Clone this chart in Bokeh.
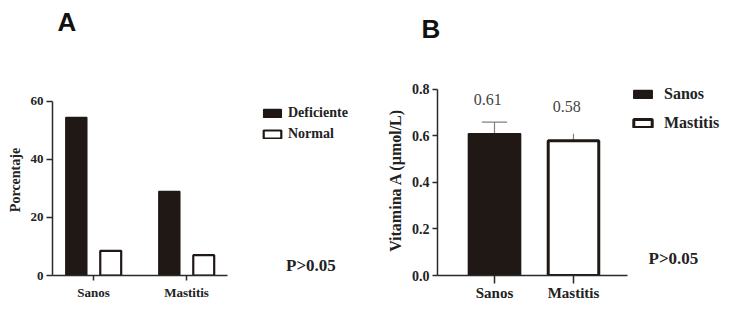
from bokeh.plotting import figure
from bokeh.layouts import row
from bokeh.models import (Range1d, FixedTicker, Legend, LegendItem, Label,
                          ColumnDataSource, PrintfTickFormatter, Title)
from bokeh.core.properties import value
from bokeh.embed import file_html
from bokeh.resources import INLINE

# ---------------- data ----------------
groups = ["Sanos", "Mastitis"]
group_pos = [1, 2]
pct_deficiente = [54.5, 29.0]
pct_normal = [8.5, 7.0]
a_yticks = [0, 20, 40, 60]

vit_mean = [0.61, 0.58]
vit_upper = [0.66, 0.61]
vit_labels = ["0.61", "0.58"]
b_yticks = [0.0, 0.2, 0.4, 0.6, 0.8]
p_text = "P>0.05"

# ---------------- style ----------------
DARK = "#1f1815"
AX = "#2a2a2a"
SERIF = "Liberation Serif"
TOP = 84
BOTTOM = 32


def style_axes(p, ytick_size, xtick_size, ylab_size, ytick_out, xtick_out,
               ylab_standoff, xlab_standoff):
    for ax in (p.xaxis[0], p.yaxis[0]):
        ax.axis_line_color = AX
        ax.axis_line_width = 1.5
        ax.major_tick_line_color = AX
        ax.major_tick_line_width = 1.5
        ax.minor_tick_line_color = None
        ax.major_tick_in = 0
        ax.major_label_text_font = SERIF
        ax.major_label_text_font_style = "bold"
        ax.major_label_text_color = "#222222"
    p.yaxis[0].major_tick_out = ytick_out
    p.xaxis[0].major_tick_out = xtick_out
    p.yaxis[0].major_label_text_font_size = f"{ytick_size}px"
    p.xaxis[0].major_label_text_font_size = f"{xtick_size}px"
    p.yaxis[0].major_label_standoff = 3
    p.xaxis[0].major_label_standoff = xlab_standoff
    p.yaxis[0].axis_label_text_font = SERIF
    p.yaxis[0].axis_label_text_font_style = "bold"
    p.yaxis[0].axis_label_text_font_size = f"{ylab_size}px"
    p.yaxis[0].axis_label_text_color = "#222222"
    p.yaxis[0].axis_label_standoff = ylab_standoff
    p.xgrid.visible = False
    p.ygrid.visible = False
    p.outline_line_color = None
    p.xaxis[0].ticker = FixedTicker(ticks=group_pos)
    p.xaxis[0].major_label_overrides = {k: v for k, v in zip(group_pos, groups)}


def panel_title(p, text, offset, gap):
    # spacer panel next to the frame, then the panel letter above it
    p.add_layout(Title(text=" ", text_font_size="1px", standoff=gap), "above")
    p.add_layout(Title(text=text, text_font="Liberation Sans",
                       text_font_style="bold", text_font_size="26px",
                       text_color="#111111", align="left", offset=offset,
                       standoff=0), "above")


# ---------------- panel A ----------------
pA = figure(width=370, height=307, output_backend="svg", toolbar_location=None,
            x_range=Range1d(0.559, 3.978), y_range=Range1d(0, 65.86),
            min_border_left=52, min_border_right=0, min_border_top=TOP,
            min_border_bottom=BOTTOM, y_axis_label="Porcentaje")
style_axes(pA, 13, 13, 14, 6, 5, 5, 4)
pA.yaxis[0].ticker = FixedTicker(ticks=a_yticks)
pA.xaxis[0].bounds = (0.559, 2.441)
pA.yaxis[0].bounds = (0, 60)

dodge = 0.185
srcA = ColumnDataSource(dict(
    xd=[x - dodge for x in group_pos], xn=[x + dodge for x in group_pos],
    d=pct_deficiente, n=pct_normal))
r_def = pA.vbar(x="xd", top="d", width=0.225, source=srcA,
                fill_color=DARK, line_color=DARK, line_width=1.5)
r_nor = pA.vbar(x="xn", top="n", width=0.225, source=srcA,
                fill_color="white", line_color=DARK, line_width=2.2)

legA = Legend(items=[LegendItem(label="Deficiente", renderers=[r_def]),
                     LegendItem(label="Normal", renderers=[r_nor])],
              location=(209, 133), orientation="vertical",
              glyph_width=22, glyph_height=10, label_height=10, spacing=5,
              label_standoff=5, padding=0, margin=0,
              border_line_color=None, background_fill_alpha=0,
              label_text_font=SERIF, label_text_font_style="bold",
              label_text_font_size="14px", label_text_color="#222222")
pA.add_layout(legA, "center")

panel_title(pA, "A", 5, 45)
pA.add_layout(Label(x=3.07, y=3.4, text=p_text, text_font=SERIF,
                    text_font_style="bold", text_font_size="17px",
                    text_color="#222222", text_baseline="middle"))

# ---------------- panel B ----------------
pB = figure(width=365, height=307, output_backend="svg", toolbar_location=None,
            x_range=Range1d(0.2785, 4.051), y_range=Range1d(0, 0.8215),
            min_border_left=67, min_border_right=0, min_border_top=TOP,
            min_border_bottom=BOTTOM, y_axis_label="Vitamina A (µmol/L)")
style_axes(pB, 14, 15, 16, 5, 8, 5, 1)
pB.yaxis[0].ticker = FixedTicker(ticks=b_yticks)
pB.yaxis[0].formatter = PrintfTickFormatter(format="%.1f")
pB.xaxis[0].bounds = (0.2785, 2.6835)
pB.yaxis[0].bounds = (0, 0.8)

srcB = ColumnDataSource(dict(x=group_pos, m=vit_mean, u=vit_upper,
                             lab=vit_labels,
                             lx=[x - 0.085 for x in group_pos],
                             ly=[m + 0.146 for m in vit_mean]))
# error bars (upper only)
pB.segment(x0="x", y0="m", x1="x", y1="u", source=srcB,
           line_color="#808080", line_width=1.2)
pB.segment(x0=[group_pos[0] - 0.16], y0=[vit_upper[0]],
           x1=[group_pos[0] + 0.16], y1=[vit_upper[0]],
           line_color="#808080", line_width=1.2)
r_s = pB.vbar(x=[group_pos[0]], top=[vit_mean[0]], width=0.66,
              fill_color=DARK, line_color=DARK, line_width=1.5)
r_m = pB.vbar(x=[group_pos[1]], top=[vit_mean[1]], width=0.64,
              fill_color="white", line_color=DARK, line_width=3)
pB.text(x="lx", y="ly", text="lab", source=srcB, text_align="center",
        text_baseline="middle", text_font=value(SERIF),
        text_font_size="16px", text_color="#444444")

legB = Legend(items=[LegendItem(label="Sanos", renderers=[r_s]),
                     LegendItem(label="Mastitis", renderers=[r_m])],
              location=(194, 143), orientation="vertical",
              glyph_width=23, glyph_height=10, label_height=10, spacing=11,
              label_standoff=10, padding=0, margin=0,
              border_line_color=None, background_fill_alpha=0,
              label_text_font=SERIF, label_text_font_style="bold",
              label_text_font_size="16px", label_text_color="#222222")
pB.add_layout(legB, "center")

panel_title(pB, "B", -16, 38)
pB.add_layout(Label(x=2.95, y=0.073, text=p_text, text_font=SERIF,
                    text_font_style="bold", text_font_size="17px",
                    text_color="#222222", text_baseline="middle"))

layout = row(pA, pB)
open("out.html", "w").write(file_html(layout, INLINE))
